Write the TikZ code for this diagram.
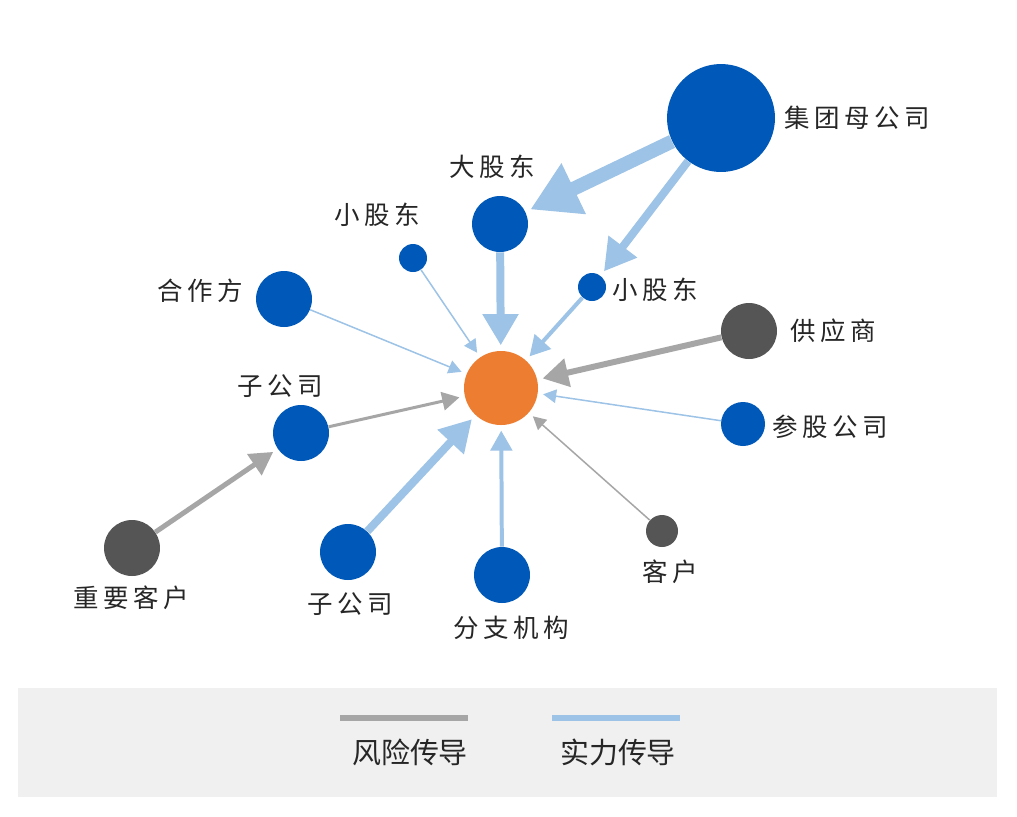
\documentclass[tikz,border=0pt]{standalone}
\usepackage{fontspec}
\setmainfont{Noto Sans CJK SC}
\newfontfamily\cjk[LetterSpace=18]{Noto Sans CJK SC}
\usetikzlibrary{arrows.meta,positioning,shadows}
\definecolor{corpblue}{HTML}{0058B8}
\definecolor{coreorange}{HTML}{ED7D31}
\definecolor{riskgray}{HTML}{555555}
\definecolor{powerline}{HTML}{9DC3E6}
\definecolor{riskline}{HTML}{A6A6A6}
\definecolor{bandgray}{HTML}{F0F0F0}
\tikzset{
    ent/.style={circle, fill=corpblue, inner sep=0pt, minimum size=#1*0.04cm},
    risk/.style={circle, fill=riskgray, inner sep=0pt, minimum size=#1*0.04cm},
    lbl/.style={font=\cjk\fontsize{14.5}{16}\selectfont, text=black!85, inner sep=0pt},
    power/.style={draw=powerline, line width=#1*0.567pt, -{Triangle[length=#1*1.6pt+5pt, width=#1*1.8pt+5pt]}, shorten >=3pt},
    spread/.style={draw=riskline, line width=#1*0.567pt, -{Triangle[length=#1*1.6pt+5pt, width=#1*1.8pt+5pt]}, shorten >=3pt}
}
\begin{document}
\begin{tikzpicture}[x=0.02cm, y=-0.02cm]
    \useasboundingbox (0,0) rectangle (1017,816);
    % card and legend band
    \fill[white, drop shadow={opacity=0.25, shadow xshift=0pt, shadow yshift=0pt}] (18,20) rectangle (997,797);
    \fill[bandgray] (18,688) rectangle (997,797);

    % entities
    \node[circle, fill=coreorange, minimum size=74*0.02cm, inner sep=0pt] (core) at (501,388) {};
    \node[ent=54] (group) at (721,118) {};
    \node[ent=28] (major) at (500,224) {};
    \node[ent=14] (minorL) at (413,258) {};
    \node[ent=14] (minorR) at (592,287) {};
    \node[ent=28] (partner) at (284,299) {};
    \node[risk=28] (supplier) at (749,331) {};
    \node[ent=22] (stake) at (743,424) {};
    \node[ent=28] (subA) at (301,433) {};
    \node[risk=28] (keyclient) at (132,548) {};
    \node[ent=28] (subB) at (348,552) {};
    \node[ent=28] (branch) at (502,575) {};
    \node[risk=16] (client) at (662,531) {};

    % labels
    \node[lbl, anchor=west] (groupT) at (784,118) {集团母公司};
    \node[lbl] (majorT) at (492,167) {大股东};
    \node[lbl] (minorLT) at (377,215) {小股东};
    \node[lbl, anchor=west] (minorRT) at (612,290) {小股东};
    \node[lbl] (partnerT) at (200,291) {合作方};
    \node[lbl, anchor=west] (supplierT) at (790,331) {供应商};
    \node[lbl, anchor=west] (stakeT) at (772,427) {参股公司};
    \node[lbl] (subAT) at (280,386) {子公司};
    \node[lbl] (keyclientT) at (131,598) {重要客户};
    \node[lbl] (subBT) at (350,604) {子公司};
    \node[lbl] (branchT) at (511,628) {分支机构};
    \node[lbl] (clientT) at (670,572) {客户};

    % connectors
    \draw[power=14] (group) -- (major);
    \draw[power=8] (group) -- (minorR);
    \draw[power=8] (major) -- (core);
    \draw[power=1.5] (minorL) -- (core);
    \draw[power=4] (minorR) -- (core);
    \draw[power=1.5] (partner) -- (core);
    \draw[spread=6] (supplier) -- (core);
    \draw[power=1.5] (stake) -- (core);
    \draw[spread=3] (subA) -- (core);
    \draw[spread=5] (keyclient) -- (subA);
    \draw[power=8] (subB) -- (core);
    \draw[power=4] (branch) -- (core);
    \draw[spread=1.5] (client) -- (core);

    % legend
    \coordinate (riskA) at (340,718);
    \coordinate (riskB) at (468,718);
    \coordinate (powA) at (552,718);
    \coordinate (powB) at (680,718);
    \draw[riskline, line width=3.5pt] (riskA) -- (riskB);
    \draw[powerline, line width=3.5pt] (powA) -- (powB);
    \node[font=\fontsize{16.5}{18}\selectfont, text=black!85] (riskT) at (410,752) {风险传导};
    \node[font=\fontsize{16.5}{18}\selectfont, text=black!85] (powT) at (618,752) {实力传导};
\end{tikzpicture}
\end{document}
